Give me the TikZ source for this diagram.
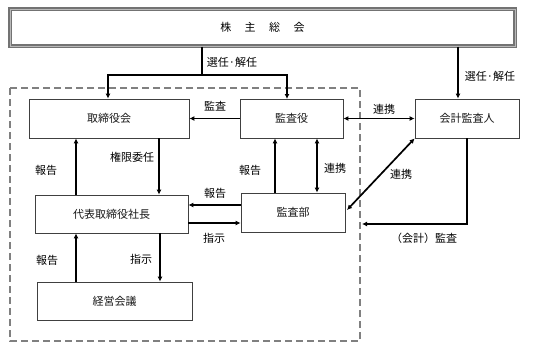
\documentclass[tikz,border=0pt]{standalone}
\usepackage{fontspec}
\setmainfont{Noto Sans CJK JP}
\usetikzlibrary{arrows.meta}
\begin{document}
\begin{tikzpicture}[x=1pt,y=-1pt,
  font=\fontsize{11pt}{13pt}\selectfont,
  box/.style={draw=black!75, line width=0.8pt, fill=white, inner sep=0pt, text=black!90},
  arr/.style={line width=1.7pt, -{Latex[length=5pt,width=5pt]}},
  darr/.style={line width=1.7pt, {Latex[length=5pt,width=5pt]}-{Latex[length=5pt,width=5pt]}},
  lab/.style={inner sep=0pt, text=black}]
\useasboundingbox (0,0) rectangle (533,351);
\fill[white] (0,0) rectangle (533,351);
% dashed frame
\draw[gray, line width=2.2pt, dash pattern=on 7pt off 4pt] (10,88) rectangle (360,341);
% boxes
\node[draw=gray!90!black, double=gray!55, double distance=0.9pt, line width=1.2pt, fill=white,
  minimum width=505pt, minimum height=37pt, inner sep=0pt] (top) at (262.5,27.5)
  {株\hspace{13.5pt}主\hspace{13.5pt}総\hspace{13.5pt}会};
\node[box, minimum width=160pt, minimum height=39pt] (tri) at (109,118.5) {取締役会};
\node[box, minimum width=103pt, minimum height=39pt] (ksy) at (291.5,118.5) {監査役};
\node[box, minimum width=104pt, minimum height=39pt] (kai) at (467,118.5) {会計監査人};
\node[box, minimum width=104pt, minimum height=39pt] (ksb) at (293,212.5) {監査部};
\node[box, minimum width=153pt, minimum height=38pt] (sha) at (111.5,214) {代表取締役社長};
\node[box, minimum width=155pt, minimum height=38pt] (kei) at (114.5,301) {経営会議};
% helper coordinates
\coordinate (j) at (202,75);
\coordinate (xr) at (458,0);
\coordinate (xa) at (76,0);
\coordinate (xb) at (159,0);
\coordinate (xc) at (275,0);
\coordinate (xd) at (317,0);
\coordinate (xe) at (160,0);
\coordinate (ya) at (0,205);
\coordinate (yb) at (0,223);
\coordinate (dg) at (347,210);
\coordinate (ka) at (362,224);
\coordinate (ksyn) at (287,99);
% connectors
\draw[line width=1.7pt] (top.south -| j) -- (j);
\draw[arr] (j) -| ([xshift=-1pt]tri.north);
\draw[arr] (j) -| (ksyn);
\draw[arr] (top.south -| xr) -- (kai.north -| xr);
\draw[arr] (ksy.west) -- (tri.east);
\draw[darr] (ksy.east) -- (kai.west);
\draw[arr] (sha.north -| xa) -- (tri.south -| xa);
\draw[arr] (tri.south -| xb) -- (sha.north -| xb);
\draw[arr] (ksb.north -| xc) -- (ksy.south -| xc);
\draw[darr] (ksy.south -| xd) -- (ksb.north -| xd);
\draw[darr] (kai.south west) -- (dg);
\draw[arr] (kai.south) |- (ka);
\draw[arr] (ksb.west |- ya) -- (sha.east |- ya);
\draw[arr] (sha.east |- yb) -- (ksb.west |- yb);
\draw[arr] (kei.north -| xa) -- (sha.south -| xa);
\draw[arr] (sha.south -| xe) -- (kei.north -| xe);
% labels
\node[lab] (l1) at (232,62) {選任·解任};
\node[lab] (l2) at (490,76) {選任·解任};
\node[lab] (l3) at (215,106) {監査};
\node[lab] (l4) at (384,109) {連携};
\node[lab] (l5) at (46,170) {報告};
\node[lab] (l6) at (132,157) {権限委任};
\node[lab] (l7) at (250,170) {報告};
\node[lab] (l8) at (335,168) {連携};
\node[lab] (l9) at (401,174) {連携};
\node[lab] (l10) at (424,238) {（会計）監査};
\node[lab] (l11) at (215,193) {報告};
\node[lab] (l12) at (214,238) {指示};
\node[lab] (l13) at (47,260) {報告};
\node[lab] (l14) at (141,259) {指示};
\end{tikzpicture}
\end{document}
